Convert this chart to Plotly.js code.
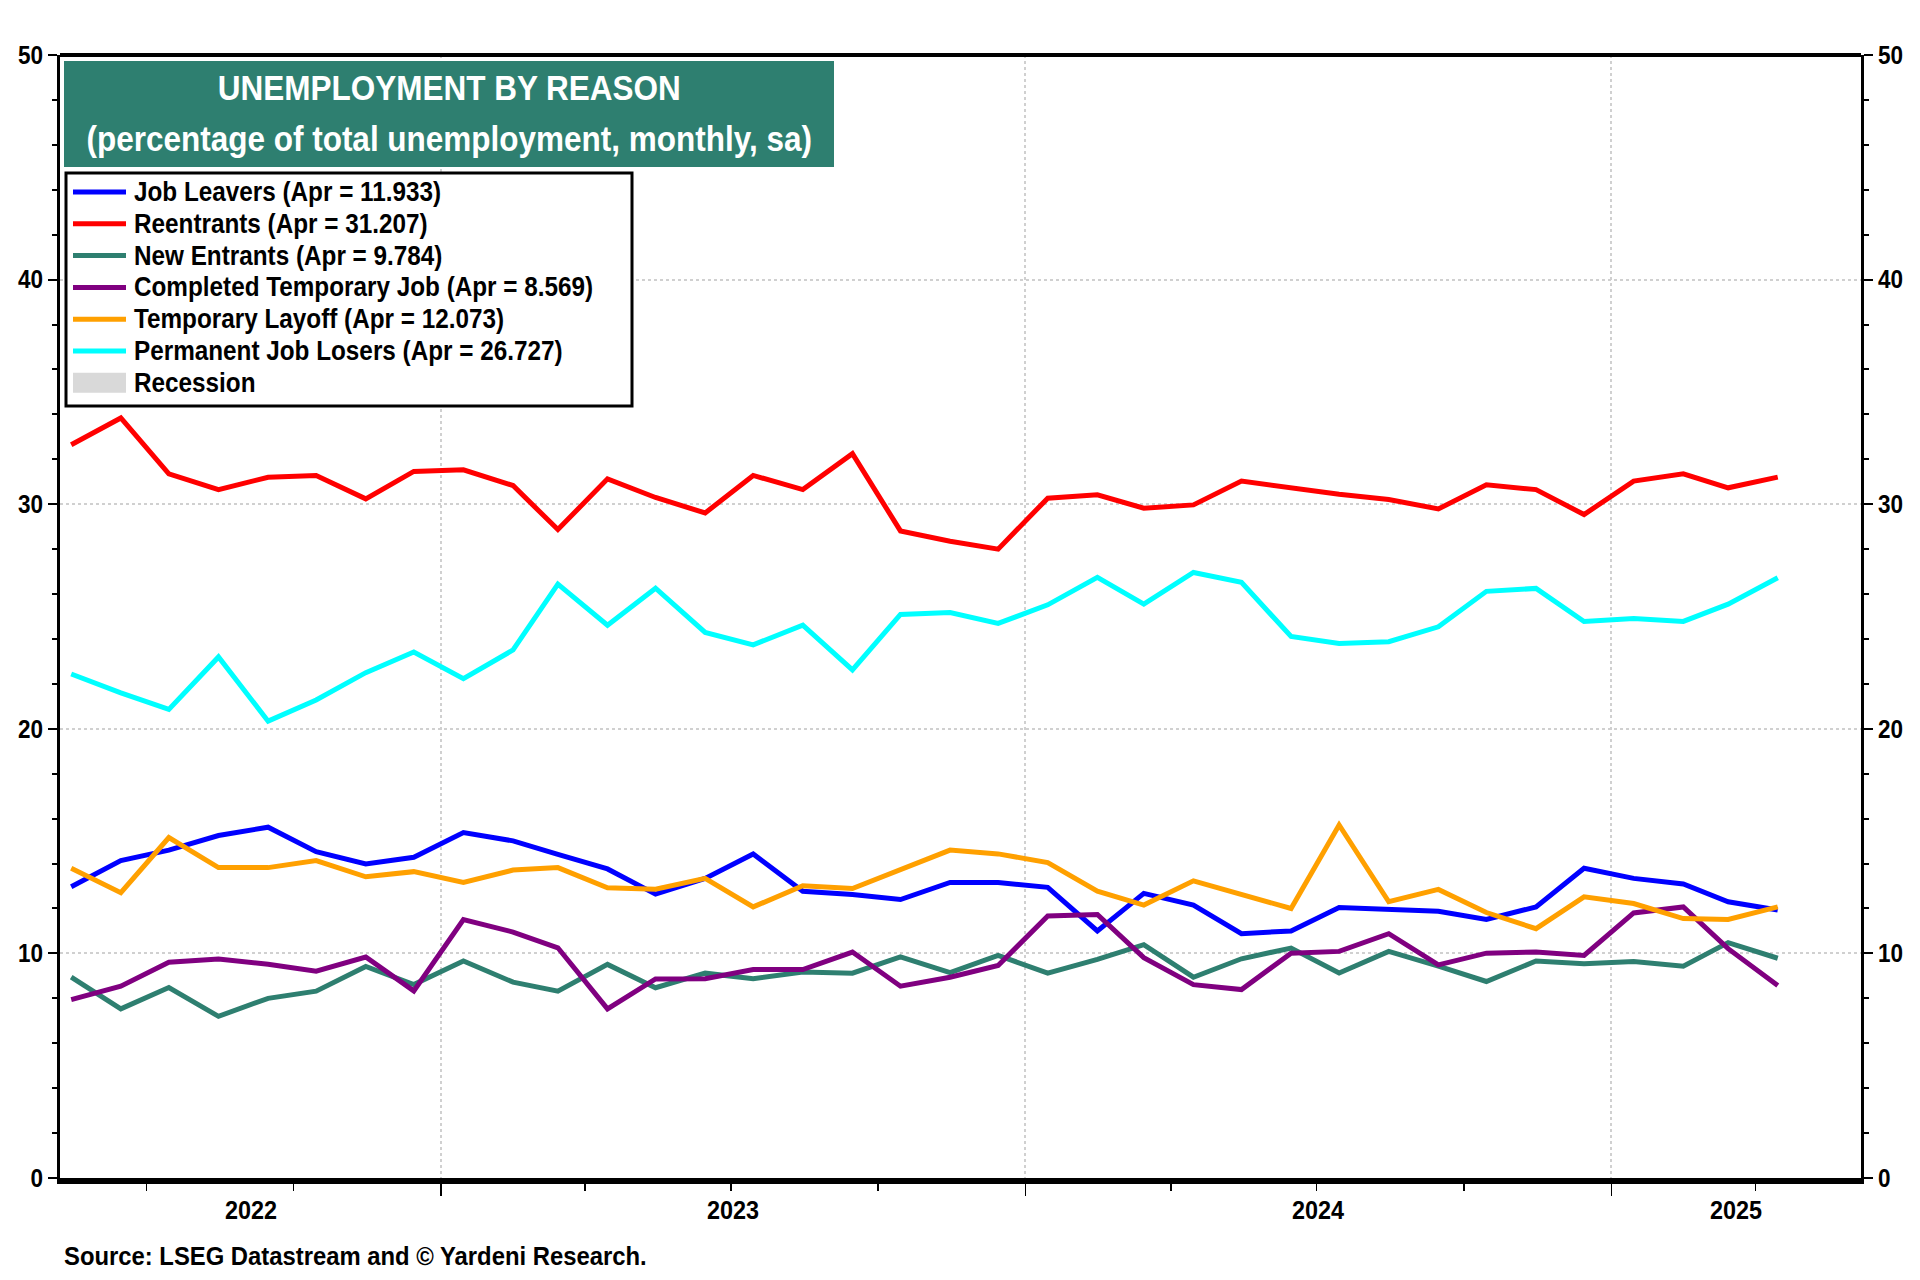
<!DOCTYPE html>
<html><head><meta charset="utf-8">
<script src="https://cdn.plot.ly/plotly-3.0.1.min.js"></script>
<style>html,body{margin:0;padding:0;background:#fff;} #chart{width:1920px;height:1280px;}</style>
</head><body><div id="chart"></div>
<script>
// ---------- DATA ----------
const months = ['2022-05-15','2022-06-15','2022-07-15','2022-08-15','2022-09-15','2022-10-15','2022-11-15','2022-12-15',
  '2023-01-15','2023-02-15','2023-03-15','2023-04-15','2023-05-15','2023-06-15','2023-07-15','2023-08-15','2023-09-15','2023-10-15','2023-11-15','2023-12-15',
  '2024-01-15','2024-02-15','2024-03-15','2024-04-15','2024-05-15','2024-06-15','2024-07-15','2024-08-15','2024-09-15','2024-10-15','2024-11-15','2024-12-15',
  '2025-01-15','2025-02-15','2025-03-15','2025-04-15'];

const jobLeavers = [12.97,14.13,14.60,15.25,15.62,14.53,13.98,14.28,15.38,15.01,14.41,13.76,12.64,13.34,14.43,12.77,12.62,12.40,13.16,13.16,
  12.94,11.00,12.67,12.15,10.88,11.00,12.04,11.97,11.88,11.51,12.07,13.79,13.34,13.09,12.30,11.933];
const reentrants = [32.65,33.84,31.35,30.65,31.20,31.28,30.24,31.46,31.53,30.83,28.87,31.13,30.30,29.61,31.28,30.65,32.25,28.81,28.35,28.00,
  30.27,30.42,29.82,29.97,31.03,30.73,30.44,30.21,29.79,30.86,30.65,29.54,31.03,31.35,30.73,31.207];
const newEntrants = [8.94,7.53,8.48,7.20,8.00,8.32,9.42,8.61,9.66,8.72,8.32,9.51,8.47,9.12,8.87,9.17,9.12,9.84,9.14,9.91,
  9.12,9.73,10.39,8.94,9.76,10.24,9.13,10.09,9.43,8.75,9.66,9.54,9.64,9.43,10.48,9.784];
const completedTempJob = [7.94,8.54,9.61,9.75,9.52,9.21,9.84,8.33,11.51,10.95,10.25,7.53,8.86,8.87,9.28,9.28,10.06,8.54,8.94,9.46,
  11.67,11.73,9.81,8.61,8.39,10.01,10.09,10.88,9.49,10.01,10.06,9.91,11.80,12.07,10.21,8.569];
const temporaryLayoff = [13.79,12.70,15.16,13.82,13.82,14.13,13.41,13.64,13.16,13.71,13.82,12.92,12.86,13.34,12.07,13.01,12.89,13.76,14.60,14.43,
  14.04,12.77,12.15,13.23,12.62,12.00,15.72,12.30,12.85,11.82,11.10,12.52,12.22,11.55,11.51,12.073];
const permanentJobLosers = [22.44,21.60,20.86,23.20,20.34,21.28,22.50,23.42,22.23,23.51,26.44,24.61,26.26,24.29,23.74,24.61,22.62,25.09,25.18,24.69,
  25.52,26.74,25.55,26.96,26.52,24.11,23.80,23.88,24.54,26.12,26.25,24.78,24.91,24.78,25.55,26.727];

const seriesNames = ['Job Leavers','Reentrants','New Entrants','Completed Temporary Job','Temporary Layoff','Permanent Job Losers'];
const latestValues = ['11.933','31.207','9.784','8.569','12.073','26.727'];
const seriesColors = ['#0000FF','#FF0000','#2E7F70','#800080','#FFA000','#00FFFF'];
const recessionLabel = 'Recession';
const yearLabels = ['2022','2023','2024','2025'];
const xRange = ['2022-05-08','2025-06-06'];
const titleLines = ['UNEMPLOYMENT BY REASON','(percentage of total unemployment, monthly, sa)'];
const sourceText = 'Source: LSEG Datastream and © Yardeni Research.';

// ---------- LAYOUT HELPERS ----------
const W = 1920, H = 1280;
const M = {l: 60, r: 59, t: 55, b: 102};
const PW = W - M.l - M.r, PH = H - M.t - M.b;
const px = x => (x - M.l) / PW;
const py = y => (H - M.b - y) / PH;
const FONT = '"Liberation Sans", Arial, sans-serif';
const NARROW = 0.9;

const allSeries = [jobLeavers, reentrants, newEntrants, completedTempJob, temporaryLayoff, permanentJobLosers];

const traces = allSeries.map((vals, i) => ({
  type: 'scatter', mode: 'lines', x: months, y: vals, name: seriesNames[i],
  line: {color: seriesColors[i], width: 5}, showlegend: false, hoverinfo: 'skip'
}));
traces.push({type: 'scatter', mode: 'lines', x: [], y: [], yaxis: 'y2', showlegend: false, hoverinfo: 'skip'});

// year boundaries and visible midpoints
const toMs = s => new Date(s + 'T00:00:00Z').getTime();
const msToStr = ms => new Date(ms).toISOString().replace('T', ' ').slice(0, 19);
const r0 = toMs(xRange[0]), r1 = toMs(xRange[1]);
const yearBounds = yearLabels.slice(1).map(y => y + '-01-01');
const quarterTicks = [];
yearLabels.forEach(y => ['04','07','10'].forEach(m => {
  const d = y + '-' + m + '-01';
  if (toMs(d) > r0 && toMs(d) < r1) quarterTicks.push(d);
}));

const annotations = [];
const bold = (size, color) => ({family: FONT, size: size, color: color || '#000', weight: 700});
yearLabels.forEach(y => {
  const a = Math.max(toMs(y + '-01-01'), r0);
  const b = Math.min(toMs((+y + 1) + '-01-01'), r1);
  annotations.push({xref: 'x', yref: 'paper', x: msToStr((a + b) / 2), y: py(1210),
    text: y, showarrow: false, xanchor: 'center', yanchor: 'middle', font: bold(26)});
});

// title box
const shapes = [];
shapes.push({type: 'rect', xref: 'paper', yref: 'paper', x0: px(64), x1: px(834), y0: py(61), y1: py(167),
  fillcolor: '#2E7F70', line: {width: 0}, layer: 'above'});
annotations.push({xref: 'paper', yref: 'paper', x: px(449), y: py(88), text: titleLines[0], showarrow: false,
  xanchor: 'center', yanchor: 'middle', font: bold(35, '#fff')});
annotations.push({xref: 'paper', yref: 'paper', x: px(449), y: py(138), text: titleLines[1], showarrow: false,
  xanchor: 'center', yanchor: 'middle', font: bold(35, '#fff')});

// legend box
shapes.push({type: 'rect', xref: 'paper', yref: 'paper', x0: px(66), x1: px(632), y0: py(173), y1: py(406),
  fillcolor: '#fff', line: {width: 3, color: '#000'}, layer: 'above'});
const legY0 = 192, legStep = 31.8;
seriesNames.forEach((n, i) => {
  const yy = legY0 + i * legStep;
  shapes.push({type: 'line', xref: 'paper', yref: 'paper', x0: px(73), x1: px(126), y0: py(yy), y1: py(yy),
    line: {color: seriesColors[i], width: 5}, layer: 'above'});
  annotations.push({xref: 'paper', yref: 'paper', x: px(132), y: py(yy), text: n + ' (Apr = ' + latestValues[i] + ')',
    showarrow: false, xanchor: 'left', align: 'left', yanchor: 'middle', font: bold(27)});
});
const recY = legY0 + 6 * legStep;
shapes.push({type: 'rect', xref: 'paper', yref: 'paper', x0: px(73), x1: px(126), y0: py(recY - 10), y1: py(recY + 10),
  fillcolor: '#D9D9D9', line: {width: 0}, layer: 'above'});
annotations.push({xref: 'paper', yref: 'paper', x: px(132), y: py(recY), text: recessionLabel,
  showarrow: false, xanchor: 'left', align: 'left', yanchor: 'middle', font: bold(27)});

// top border
shapes.push({type: 'line', xref: 'paper', yref: 'paper', x0: 0, x1: 1, y0: 1, y1: 1, line: {color: '#000', width: 4}});

// source
annotations.push({xref: 'paper', yref: 'paper', x: px(62), y: py(1256), text: sourceText, showarrow: false,
  xanchor: 'left', align: 'left', yanchor: 'middle', font: bold(26.5)});

const yAxisBase = {
  range: [0, 50], tickmode: 'array', tickvals: [0,10,20,30,40,50], ticks: 'outside', ticklen: 9, tickwidth: 2, tickcolor: '#000',
  minor: {tickmode: 'array', tickvals: [2,4,6,8,12,14,16,18,22,24,26,28,32,34,36,38,42,44,46,48], ticks: 'outside', ticklen: 5, tickwidth: 2, tickcolor: '#000', showgrid: false},
  showline: true, linewidth: 3, linecolor: '#000', zeroline: false, fixedrange: true,
  tickfont: bold(25)
};

const layout = {
  width: W, height: H, margin: M, paper_bgcolor: '#fff', plot_bgcolor: '#fff', showlegend: false,
  xaxis: {
    type: 'date', range: xRange, tickmode: 'array', tickvals: yearBounds, ticks: 'outside', ticklen: 12, tickwidth: 1.5, tickcolor: '#000',
    showticklabels: false, showgrid: true, gridcolor: '#d0d0d0', gridwidth: 2, griddash: 'dot',
    minor: {tickmode: 'array', tickvals: quarterTicks, ticks: 'outside', ticklen: 7, tickwidth: 1.5, tickcolor: '#000', showgrid: false},
    showline: true, linewidth: 6, linecolor: '#000', mirror: false, zeroline: false, fixedrange: true
  },
  yaxis: Object.assign({}, yAxisBase, {side: 'left', showgrid: true, gridcolor: '#d0d0d0', gridwidth: 2, griddash: 'dot'}),
  yaxis2: Object.assign({}, yAxisBase, {side: 'right', overlaying: 'y', showgrid: false}),
  shapes: shapes, annotations: annotations
};

// condense text horizontally (narrow bold face look), keeping each text's anchor fixed
function condense(gd) {
  gd.querySelectorAll('svg text').forEach(t => {
    const x = parseFloat(t.getAttribute('x') || '0');
    const tr = t.getAttribute('transform') || '';
    t.setAttribute('transform', tr + ' translate(' + x + ',0) scale(' + NARROW + ',1) translate(' + (-x) + ',0)');
  });
}

Plotly.newPlot('chart', traces, layout, {displayModeBar: false, staticPlot: true}).then(condense);
</script></body></html>
